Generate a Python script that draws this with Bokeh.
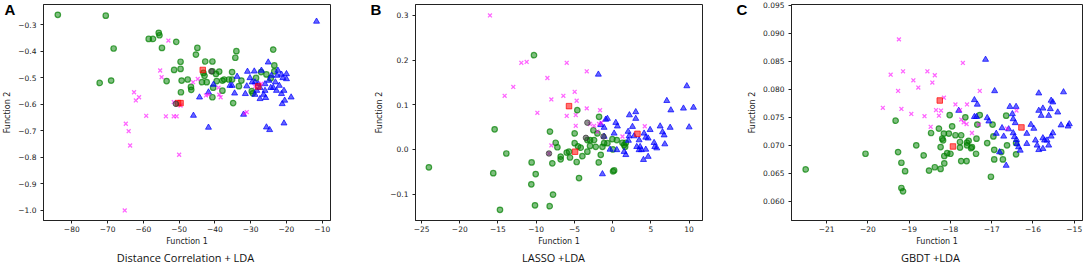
from bokeh.plotting import figure
from bokeh.layouts import row
from bokeh.models import FixedTicker, CustomJSTickFormatter, Label, Range1d
from bokeh.embed import file_html
from bokeh.resources import INLINE

# ---------------- Panel A: Distance Correlation + LDA ----------------
a_green_x = [-83.9, -70.5, -68.3, -72.2, -69.0, -58.5, -57.3, -55.7, -55.5, -54.8, -50.8, -53.5, -51.4,
             -49.6, -49.6, -49.3, -49.5, -47.6, -46.7, -46.6, -45.3, -44.9, -42.7, -40.7, -43.2, -42.9,
             -43.6, -42.3, -40.7, -39.7, -38.8, -40.5, -40.7, -39.5, -37.9, -37.4, -36.1, -35.2, -37.9,
             -35.2, -34.3, -34.0, -33.3, -34.9, -29.7, -29.4, -28.5, -27.1, -23.7, -23.4, -23.4, -24.4,
             -25.6, -32.6]
a_green_y = [-0.262, -0.265, -0.389, -0.519, -0.510, -0.353, -0.353, -0.330, -0.339, -0.387, -0.364,
             -0.512, -0.470, -0.466, -0.439, -0.510, -0.554, -0.506, -0.534, -0.545, -0.412, -0.387,
             -0.438, -0.438, -0.481, -0.492, -0.516, -0.516, -0.475, -0.485, -0.476, -0.537, -0.573,
             -0.512, -0.510, -0.506, -0.506, -0.506, -0.548, -0.478, -0.424, -0.399, -0.531, -0.595,
             -0.550, -0.558, -0.500, -0.478, -0.393, -0.453, -0.475, -0.501, -0.487, -0.510]
a_blue_x = [-11.6, -46.0, -41.8, -44.3, -41.8, -40.4, -34.5, -33.8, -35.8, -35.2, -32.0, -31.5, -30.9,
            -30.2, -31.1, -29.6, -29.0, -27.9, -27.4, -27.0, -26.4, -25.8, -25.1, -26.0, -24.9, -24.2,
            -23.7, -23.1, -22.8, -22.6, -22.4, -22.0, -21.4, -21.4, -21.0, -20.7, -21.2, -20.5, -20.0,
            -20.0, -18.7, -20.7, -25.6, -24.7, -28.8, -28.3, -28.8, -27.4, -24.4, -26.0]
a_blue_y = [-0.287, -0.642, -0.687, -0.573, -0.554, -0.525, -0.558, -0.495, -0.529, -0.529, -0.638,
            -0.560, -0.476, -0.500, -0.531, -0.516, -0.475, -0.523, -0.537, -0.472, -0.563, -0.575,
            -0.441, -0.548, -0.510, -0.491, -0.537, -0.516, -0.548, -0.491, -0.472, -0.529, -0.560,
            -0.487, -0.500, -0.548, -0.598, -0.585, -0.485, -0.504, -0.573, -0.671, -0.686, -0.696,
            -0.516, -0.548, -0.563, -0.579, -0.537, -0.523]
a_pink_x = [-53.0, -55.3, -54.9, -62.6, -61.2, -62.1, -64.9, -64.1, -63.7, -65.2, -59.2, -53.7, -51.5,
            -50.7, -50.0, -51.5, -49.6, -46.1, -44.8, -42.5, -41.8, -39.0, -38.8, -38.4, -31.1, -31.7,
            -28.8, -27.0]
a_pink_y = [-0.359, -0.472, -0.497, -0.554, -0.573, -0.585, -0.673, -0.701, -0.755, -1.000, -0.643,
            -0.645, -0.645, -0.645, -0.790, -0.591, -0.604, -0.516, -0.504, -0.566, -0.563, -0.537,
            -0.563, -0.573, -0.629, -0.635, -0.532, -0.522]
a_red_x = [-43.4, -27.9, -50.3, -49.6]
a_red_y = [-0.470, -0.532, -0.595, -0.595]
a_gray_x = [-41.0, -50.9]
a_gray_y = [-0.475, -0.598]

# ---------------- Panel B: LASSO + LDA ----------------
b_green_x = [-24.04, -15.44, -13.91, -15.62, -14.74, -10.29, -10.60, -10.07, -10.64, -10.16, -7.80, -8.24,
             -8.20, -7.89, -7.45, -7.23, -6.80, -6.80, -6.01, -5.58, -4.97, -4.97, -4.62, -4.53, -4.71,
             -4.40, -4.18, -3.96, -3.31, -2.96, -2.96, -2.52, -2.43, -2.21, -1.99, -1.78, -1.82, -1.56,
             -1.34, -1.12, -0.69, -0.03, 0.05, 0.19, 0.05, 0.54, 1.28, 1.50, 1.72, 1.63, -3.30, -5.70]
b_green_y = [-0.040, 0.045, -0.009, -0.053, -0.135, 0.211, -0.029, -0.055, -0.078, -0.125, -0.101, -0.127,
             0.040, -0.031, 0.015, 0.005, -0.016, -0.022, -0.007, -0.018, 0.036, 0.014, 0.088, 0.007,
             -0.028, -0.064, 0.004, -0.015, -0.005, 0.021, 0.008, 0.043, 0.021, 0.006, 0.036, 0.073,
             -0.029, -0.012, 0.006, 0.014, 0.014, 0.023, 0.000, -0.047, -0.049, 0.021, 0.015, 0.010,
             0.015, 0.006, 0.021, -0.005]
b_blue_x = [-1.87, -1.34, -0.91, -0.69, -1.12, -1.56, -1.12, -0.34, 0.19, 0.41, 0.62, 0.54, 1.50, 1.72,
            2.06, 2.15, 2.19, 2.59, 2.80, 3.02, 3.02, 3.15, 3.46, 3.59, 3.76, 4.03, 4.11, 4.33, 4.64,
            4.90, 4.64, 5.42, 5.51, 5.77, 6.21, 6.52, 6.73, 6.82, 7.08, 7.61, 7.52, 9.70, 9.26, 10.57,
            10.00, 4.33, 3.46, 2.02]
b_blue_y = [0.168, -0.055, 0.067, 0.069, 0.049, 0.055, 0.029, 0.000, 0.036, 0.060, 0.052, -0.001, -0.005,
            -0.012, 0.020, 0.030, 0.077, 0.051, 0.030, 0.084, 0.069, 0.006, 0.021, 0.006, -0.001, -0.023,
            0.036, 0.027, -0.016, 0.044, 0.025, 0.015, 0.006, 0.003, 0.052, 0.039, 0.032, 0.012, 0.109,
            0.088, 0.049, 0.142, 0.092, 0.094, 0.050, 0.000, -0.001, 0.040]
b_pink_x = [-16.05, -11.95, -11.25, -13.00, -14.13, -8.54, -6.01, -3.39, -4.97, -4.71, -8.02, -9.85, -6.45,
            -6.01, -4.83, -3.39, -1.65, -4.83, -2.96, -2.43, -1.78, -1.47, -8.02, -8.33, 1.28, 4.20, -2.00]
b_pink_y = [0.300, 0.194, 0.196, 0.140, 0.120, 0.160, 0.194, 0.175, 0.129, 0.109, 0.112, 0.082, 0.120,
            0.075, 0.077, 0.092, 0.088, 0.053, 0.057, 0.053, 0.057, 0.060, 0.009, -0.009, 0.029, 0.052,
            0.040]
b_red_x = [-5.71, -4.92, 3.24]
b_red_y = [0.097, -0.005, 0.035]
b_gray_x = [-3.50, -1.20, -8.33, -3.31]
b_gray_y = [0.026, 0.029, -0.009, 0.060]

# ---------------- Panel C: GBDT + LDA ----------------
c_green_x = [-21.51, -20.06, -19.33, -19.27, -19.19, -19.10, -19.19, -19.15, -18.83, -18.65, -18.52,
             -18.38, -18.47, -18.28, -18.24, -18.24, -18.20, -18.18, -18.16, -18.15, -18.15, -18.08,
             -18.04, -18.02, -18.00, -17.96, -17.88, -17.77, -17.74, -17.77, -17.74, -17.61, -17.64,
             -17.60, -17.60, -17.56, -17.50, -17.48, -17.38, -17.37, -17.35, -17.29, -17.11, -17.02,
             -16.98, -16.96, -16.94, -16.94, -16.77, -16.73, -16.65, -16.63, -16.41, -16.41]
c_green_y = [0.0657, 0.0685, 0.0744, 0.0688, 0.0669, 0.0654, 0.0624, 0.0618, 0.0700, 0.0682, 0.0655,
             0.0661, 0.0722, 0.0730, 0.0658, 0.0697, 0.0712, 0.0709, 0.0721, 0.0681, 0.0668, 0.0686,
             0.0721, 0.0754, 0.0685, 0.0734, 0.0718, 0.0696, 0.0672, 0.0706, 0.0718, 0.0672, 0.0750,
             0.0705, 0.0700, 0.0708, 0.0695, 0.0697, 0.0685, 0.0712, 0.0737, 0.0754, 0.0704, 0.0644,
             0.0737, 0.0716, 0.0692, 0.0675, 0.0688, 0.0675, 0.0753, 0.0700, 0.0684, 0.0704]
c_blue_x = [-17.15, -16.93, -17.42, -17.35, -17.80, -17.42, -17.11, -17.07, -16.75, -16.59, -16.56,
            -16.41, -16.50, -16.48, -16.43, -16.89, -16.71, -16.48, -16.45, -16.40, -16.39, -16.35,
            -16.31, -16.65, -16.15, -16.05, -15.98, -15.94, -15.90, -15.86, -15.76, -16.15, -15.86,
            -15.86, -15.80, -15.76, -15.72, -15.66, -15.62, -15.76, -15.62, -15.58, -15.56, -15.52,
            -15.56, -15.52, -15.40, -15.32, -15.26, -15.12, -15.15, -16.81, -17.37]
c_blue_y = [0.0853, 0.0797, 0.0781, 0.0773, 0.0762, 0.0751, 0.0749, 0.0743, 0.0731, 0.0729, 0.0769,
            0.0769, 0.0756, 0.0747, 0.0740, 0.0721, 0.0716, 0.0722, 0.0715, 0.0710, 0.0703, 0.0697,
            0.0691, 0.0664, 0.0721, 0.0737, 0.0730, 0.0709, 0.0700, 0.0692, 0.0694, 0.0703, 0.0762,
            0.0793, 0.0753, 0.0713, 0.0709, 0.0709, 0.0700, 0.0766, 0.0753, 0.0765, 0.0780, 0.0777,
            0.0716, 0.0722, 0.0759, 0.0736, 0.0795, 0.0738, 0.0734, 0.0688, 0.0751]
c_pink_x = [-19.25, -19.45, -19.15, -18.56, -18.38, -18.44, -18.90, -18.78, -19.27, -19.64, -19.19,
            -18.95, -18.63, -18.35, -18.28, -18.16, -18.48, -18.23, -17.88, -17.77, -17.70, -17.60,
            -17.74, -17.68, -17.61, -17.29, -17.48, -17.31, -16.63, -16.40]
c_pink_y = [0.0889, 0.0826, 0.0832, 0.0832, 0.0825, 0.0812, 0.0816, 0.0803, 0.0797, 0.0767, 0.0765,
            0.0756, 0.0752, 0.0763, 0.0753, 0.0785, 0.0733, 0.0762, 0.0773, 0.0763, 0.0847, 0.0773,
            0.0746, 0.0741, 0.0738, 0.0797, 0.0722, 0.0737, 0.0730, 0.0762]
c_red_x = [-18.26, -17.94, -16.28]
c_red_y = [0.0780, 0.0698, 0.0732]

# ticks
a_xticks = [-80, -70, -60, -50, -40, -30, -20, -10]
a_yticks = [-1.0, -0.9, -0.8, -0.7, -0.6, -0.5, -0.4, -0.3]
b_xticks = [-25, -20, -15, -10, -5, 0, 5, 10]
b_yticks = [-0.1, 0.0, 0.1, 0.2, 0.3]
c_xticks = [-21, -20, -19, -18, -17, -16, -15]
c_yticks = [0.060, 0.065, 0.070, 0.075, 0.080, 0.085, 0.090, 0.095]

TICK_FONT = "DejaVu Sans"


def fmt(digits):
    return CustomJSTickFormatter(code="return tick.toFixed(%d).replace('-', '\u2212');" % digits)


def make_panel(width, left, right, xr, yr, xticks, yticks, xd, yd, letter, subtitle, sub_x,
               letter_side, letter_x):
    p = figure(width=width, height=266, x_range=Range1d(*xr), y_range=Range1d(*yr),
               output_backend="svg", toolbar_location=None,
               min_border_left=left, min_border_right=right, min_border_top=4, min_border_bottom=46)
    p.grid.visible = False
    p.outline_line_color = "#222222"
    p.outline_line_width = 1
    p.background_fill_color = "white"
    p.border_fill_color = "white"
    for ax in (p.xaxis[0], p.yaxis[0]):
        ax.major_tick_in = 0
        ax.major_tick_out = 3
        ax.minor_tick_line_color = None
        ax.axis_line_color = "#222222"
        ax.major_tick_line_color = "#222222"
        ax.major_label_text_font = TICK_FONT
        ax.major_label_text_font_size = "7.5px"
        ax.major_label_text_color = "#222222"
        ax.axis_label_text_font = TICK_FONT
        ax.axis_label_text_font_size = "8px"
        ax.axis_label_text_font_style = "normal"
        ax.axis_label_text_color = "#222222"
    p.xaxis.ticker = FixedTicker(ticks=xticks)
    p.yaxis.ticker = FixedTicker(ticks=yticks)
    p.xaxis.formatter = fmt(xd)
    p.yaxis.formatter = fmt(yd)
    p.xaxis.major_label_standoff = 2
    p.yaxis.major_label_standoff = 4
    p.xaxis.axis_label = "Function 1"
    p.yaxis.axis_label = "Function 2"
    p.xaxis.axis_label_standoff = 2
    p.yaxis.axis_label_standoff = 3
    # side-panel labels (not clipped to the frame)
    p.add_layout(Label(x=letter_x, y=211, x_units="screen", y_units="screen", text=letter,
                       text_font="Liberation Sans", text_font_style="bold", text_font_size="15px",
                       text_baseline="middle", text_align="left", text_color="black"), letter_side)
    p.add_layout(Label(x=sub_x, y=6, x_units="screen", y_units="screen", text=subtitle,
                       text_font="Open Sans", text_font_size="11px",
                       text_baseline="middle", text_align="center", text_color="#111111"), "below")
    return p


def scatter_classes(p, green, blue, pink, red, gray=None):
    gx, gy = green
    p.scatter(gx, gy, marker="circle", size=5.5, fill_color="green", fill_alpha=0.5,
              line_color="green", line_alpha=0.7, line_width=1.2)
    bx, by = blue
    p.scatter(bx, by, marker="triangle", size=6, fill_color="blue", fill_alpha=0.6,
              line_color="blue", line_alpha=0.7, line_width=1)
    px_, py_ = pink
    p.scatter(px_, py_, marker="x", size=5.5, line_color="magenta", line_alpha=0.6, line_width=1.3)
    rx, ry = red
    p.scatter(rx, ry, marker="square", size=5.5, fill_color="red", fill_alpha=0.55,
              line_color="red", line_alpha=0.7, line_width=1)
    if gray is not None:
        ox, oy = gray
        p.scatter(ox, oy, marker="circle", size=5.5, fill_color="#444444", fill_alpha=0.6,
                  line_color="#333333", line_alpha=0.7, line_width=1)


pa = make_panel(360, 38, 30, (-87.9, -7.7), (-1.038, -0.223), a_xticks, a_yticks, 0, 1,
                "A", "Distance Correlation + LDA", 142, "right", -326)
scatter_classes(pa, (a_green_x, a_green_y), (a_blue_x, a_blue_y), (a_pink_x, a_pink_y),
                (a_red_x, a_red_y), (a_gray_x, a_gray_y))

pb = make_panel(360, 55, 18, (-25.79, 11.75), (-0.159, 0.3245), b_xticks, b_yticks, 0, 1,
                "B", "LASSO +LDA", 138, "left", 9)
scatter_classes(pb, (b_green_x, b_green_y), (b_blue_x, b_blue_y), (b_pink_x, b_pink_y),
                (b_red_x, b_red_y), (b_gray_x, b_gray_y))

pc = make_panel(364, 71, 2, (-21.854, -14.8), (0.0566, 0.09512), c_xticks, c_yticks, 0, 3,
                "C", "GBDT +LDA", 139, "left", 2)
scatter_classes(pc, (c_green_x, c_green_y), (c_blue_x, c_blue_y), (c_pink_x, c_pink_y),
                (c_red_x, c_red_y))

layout = row(pa, pb, pc)
open("out.html", "w").write(file_html(layout, INLINE))
